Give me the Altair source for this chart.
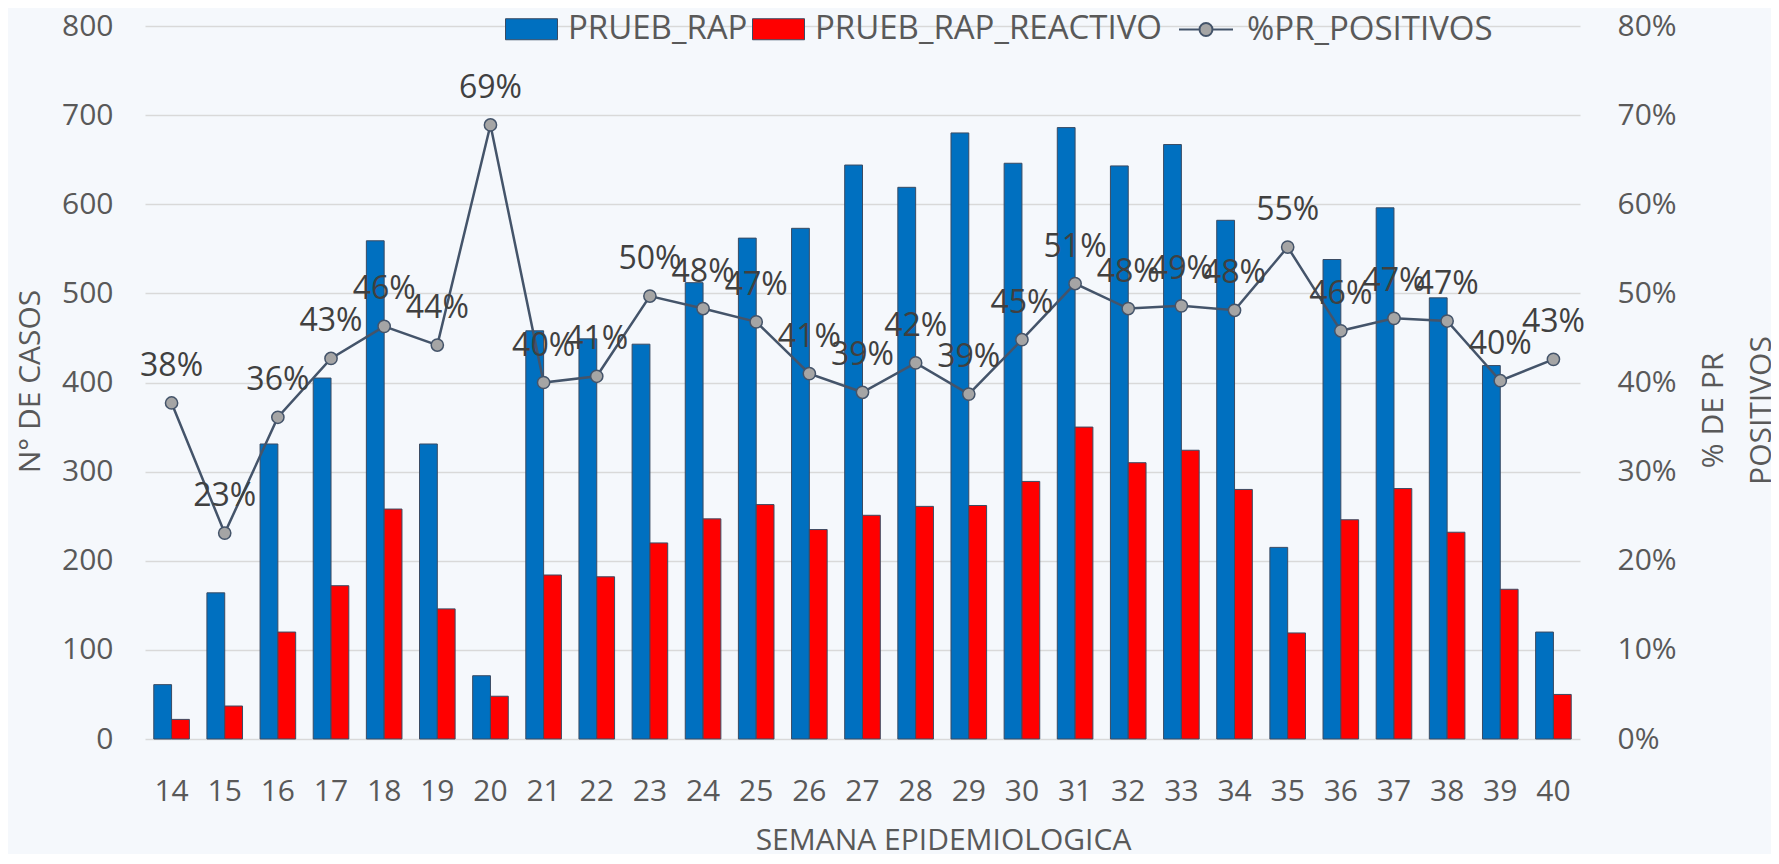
import altair as alt
import pandas as pd

# ---- data ----
weeks = [14, 15, 16, 17, 18, 19, 20, 21, 22, 23, 24, 25, 26, 27, 28, 29, 30,
         31, 32, 33, 34, 35, 36, 37, 38, 39, 40]
prueb_rap = [61, 164, 331, 405, 559, 331, 71, 458, 449, 443, 512, 562, 573, 644,
             619, 680, 646, 686, 643, 667, 582, 215, 538, 596, 495, 419, 120]
prueb_rap_reactivo = [22, 37, 120, 172, 258, 146, 48, 184, 182, 220, 247, 263, 235,
                      251, 261, 262, 289, 350, 310, 324, 280, 119, 246, 281, 232, 168, 50]
pct_positivos = [0.377, 0.231, 0.361, 0.427, 0.463, 0.442, 0.689, 0.400, 0.407, 0.497,
                 0.483, 0.468, 0.410, 0.389, 0.422, 0.387, 0.448, 0.511, 0.483, 0.486,
                 0.481, 0.552, 0.458, 0.472, 0.469, 0.402, 0.426]
bar_series = ["PRUEB_RAP", "PRUEB_RAP_REACTIVO"]
line_series = "%PR_POSITIVOS"
left_ticks = [0, 100, 200, 300, 400, 500, 600, 700, 800]
right_ticks = [0, 0.1, 0.2, 0.3, 0.4, 0.5, 0.6, 0.7, 0.8]

bars_df = pd.DataFrame({
    "week": weeks * 2,
    "serie": [bar_series[0]] * len(weeks) + [bar_series[1]] * len(weeks),
    "value": prueb_rap + prueb_rap_reactivo,
})
line_df = pd.DataFrame({"week": weeks, "pct": pct_positivos, "serie": line_series})

FONT = "Open Sans"
TXT = "#595959"
FS = 30
LINE_C = "#44546a"

x_enc = alt.X(
    "week:O", sort=weeks,
    scale=alt.Scale(paddingInner=0.33, paddingOuter=0.165),
    axis=alt.Axis(title="SEMANA EPIDEMIOLOGICA", labelAngle=0, ticks=False, tickSize=0,
                  domain=False, grid=False, labelPadding=37,
                  titleX=798, titleY=110, titleBaseline="alphabetic", titleAlign="center"),
)

bars = alt.Chart(bars_df).mark_bar(stroke="#3a4b63", strokeWidth=1).encode(
    x=x_enc,
    xOffset=alt.XOffset("serie:N", sort=bar_series,
                        scale=alt.Scale(paddingInner=0, paddingOuter=0)),
    y=alt.Y("value:Q", scale=alt.Scale(domain=[0, 800], nice=False),
            axis=alt.Axis(title="N° DE CASOS", values=left_ticks, orient="left",
                          grid=True, gridColor="#d9d9d9", gridWidth=1.5,
                          domain=False, ticks=False, tickSize=0, labelPadding=32,
                          titleAngle=270, titleX=-106, titleY=355,
                          titleBaseline="alphabetic", titleAlign="center")),
    color=alt.Color("serie:N", sort=bar_series,
                    scale=alt.Scale(domain=bar_series, range=["#0070c0", "#ff0000"]),
                    legend=alt.Legend(orient="none", legendX=360, legendY=-23.5,
                                      direction="horizontal", title=None,
                                      symbolType="M-1,-0.404H1V0.404H-1Z", symbolSize=2704,
                                      symbolStrokeColor="#3a4b63", symbolStrokeWidth=1,
                                      labelOffset=10, columnPadding=2, padding=0)),
)

y_right = alt.Y("pct:Q", scale=alt.Scale(domain=[0, 0.8], nice=False),
                axis=alt.Axis(title=["% DE PR", "POSITIVOS"], orient="right", format=".0%",
                              values=right_ticks, grid=False, domain=False, ticks=False,
                              tickSize=0, labelPadding=37, titleAngle=270,
                              titleX=142, titleY=384, titleBaseline="alphabetic",
                              titleAlign="center", titleLineHeight=48))

line = alt.Chart(line_df).mark_line(strokeWidth=2.5).encode(
    x=x_enc, y=y_right,
    stroke=alt.Stroke("serie:N", scale=alt.Scale(domain=[line_series], range=[LINE_C]),
                      legend=alt.Legend(orient="none", legendX=1033, legendY=-24.5, title=None,
                                        symbolType="M-1,0H-0.24M0.24,0H1M0.24,0A0.24,0.24 0 1,1 -0.24,0A0.24,0.24 0 1,1 0.24,0Z",
                                        symbolSize=2916, symbolFillColor="#a5a5a5",
                                        symbolStrokeWidth=2, symbolOpacity=1,
                                        labelOffset=13, padding=0)),
)

points = alt.Chart(line_df).mark_circle(size=150, stroke=LINE_C, strokeWidth=1.5,
                                       fill="#a5a5a5", opacity=1).encode(
    x=x_enc, y=y_right,
)

labels = alt.Chart(line_df).mark_text(dy=-27, baseline="alphabetic", fontSize=32, font=FONT,
                                      color="#404040").encode(
    x=x_enc, y=y_right, text=alt.Text("pct:Q", format=".0%"))

right_layer = alt.layer(line, points, labels)

chart = alt.layer(bars, right_layer).resolve_scale(
    y="independent", color="independent", stroke="independent"
).resolve_axis(y="independent").properties(
    width=1435, height=713,
    padding={"left": 137, "top": 18, "right": 191, "bottom": 115},
    autosize=alt.AutoSizeParams(type="none"),
    background="#f5f8fc",
).configure_view(stroke=None).configure_axis(
    labelFont=FONT, titleFont=FONT, labelFontSize=FS, titleFontSize=FS,
    labelColor=TXT, titleColor=TXT, titleFontWeight="normal",
).configure_legend(
    labelFont=FONT, labelFontSize=33, labelColor=TXT, labelLimit=0,
)

chart.save("out.html", embed_options={"renderer": "svg", "actions": False})
